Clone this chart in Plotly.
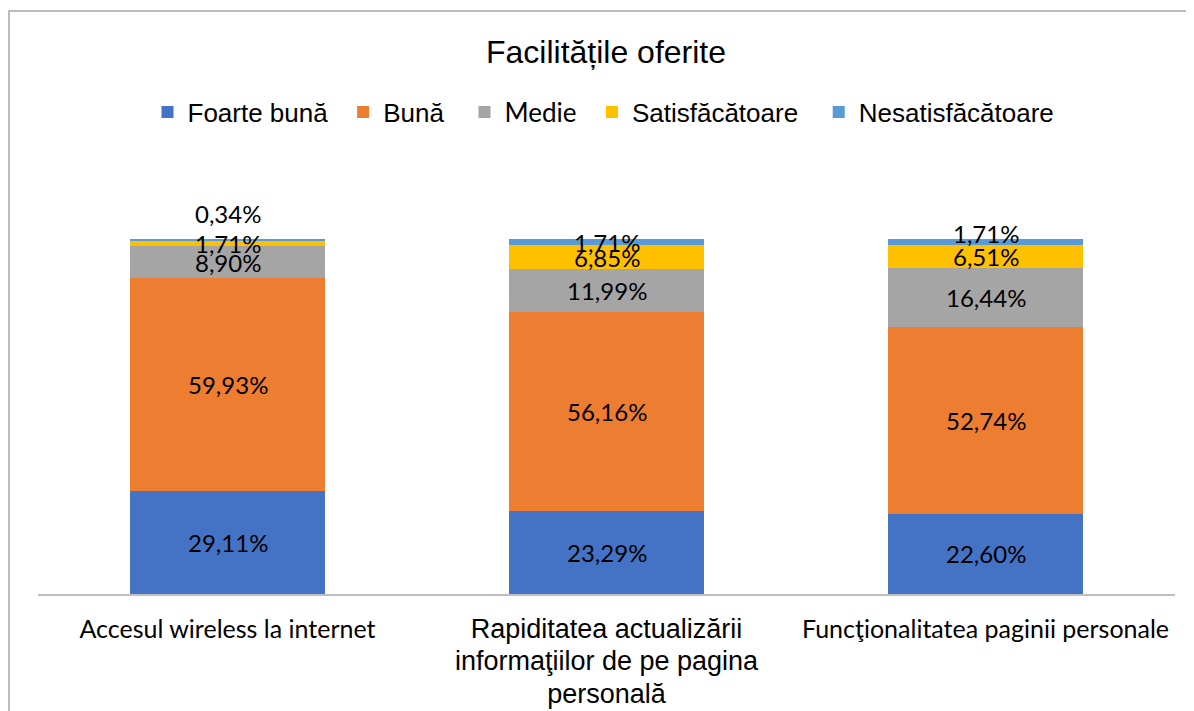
import plotly.graph_objects as go

categories = [
    "Accesul wireless la internet",
    "Rapiditatea actualizării informaţiilor de pe pagina personală",
    "Funcţionalitatea paginii personale",
]
tick_labels = [
    "Accesul wireless la internet",
    "<span style='font-family:Liberation Sans, Arial;font-size:27px'>Rapiditatea actualizării<br>informaţiilor de pe pagina<br>personală</span>",
    "Funcţionalitatea paginii personale",
]
series_names = ["Foarte bună", "Bună", "Medie", "Satisfăcătoare", "Nesatisfăcătoare"]
legend_labels = [
    "Foarte bună\u2009\u2009",
    "Bună\u2009\u2009\u2009",
    "<span style='font-family:Lato'>Medie</span>\u2009\u2009",
    "Satisfăcătoare\u2009\u2009\u2009",
    "Nesatisfăcătoare",
]
foarte_buna = [29.11, 23.29, 22.60]
buna = [59.93, 56.16, 52.74]
medie = [8.90, 11.99, 16.44]
satisfacatoare = [1.71, 6.85, 6.51]
nesatisfacatoare = [0.34, 1.71, 1.71]
series_values = [foarte_buna, buna, medie, satisfacatoare, nesatisfacatoare]

colors = ["#4472C4", "#ED7D31", "#A5A5A5", "#FFC000", "#5B9BD5"]
# pixel shifts for crowded labels (series index, category index) -> yshift
label_shift = {(4, 0): 26, (4, 2): 9}

OFF = 8  # page body margin of the html page
W, H = 1194 - OFF, 711 - OFF
L, R, T, B = 38 - OFF, 19, 239 - OFF, 117
pw, ph = W - L - R, H - T - B

fig = go.Figure()
for i, (name, vals) in enumerate(zip(series_names, series_values)):
    fig.add_trace(go.Bar(
        x=categories, y=vals, name=legend_labels[i],
        marker=dict(color=colors[i], line=dict(width=0)),
        hoverinfo="skip",
    ))

annotations = []
cum = [0.0] * len(categories)
for i, vals in enumerate(series_values):
    for j, v in enumerate(vals):
        mid = cum[j] + v / 2
        cum[j] += v
        annotations.append(dict(
            x=categories[j], y=mid, xref="x", yref="y",
            text=f"{v:.2f}".replace(".", ",") + "%",
            showarrow=False,
            font=dict(family="Lato, Noto Sans, sans-serif", size=24, color="#000000"),
            yshift=label_shift.get((i, j), 0),
        ))


def px_x(px):
    return (px - OFF - L) / pw


def px_y(py):
    return (H - B - (py - OFF)) / ph


shapes = [dict(
    type="rect", xref="paper", yref="paper",
    x0=px_x(9), x1=px_x(1260), y0=px_y(780), y1=px_y(11),
    line=dict(color="#A6A6A6", width=1.5), fillcolor="rgba(0,0,0,0)", layer="below",
)]

fig.update_layout(
    width=W, height=H,
    margin=dict(l=L, r=R, t=T, b=B, autoexpand=False),
    paper_bgcolor="white", plot_bgcolor="white",
    barmode="stack", bargap=0.485,
    title=dict(
        text="Facilitățile oferite",
        font=dict(family="Liberation Sans, Arial", size=32, color="#000000"),
        xref="container", x=(606 - OFF) / W, xanchor="center",
        yref="container", y=1 - (52 - OFF) / H, yanchor="middle",
    ),
    legend=dict(
        orientation="h", traceorder="normal",
        xref="container", x=(603.5 - OFF) / W, xanchor="center",
        yref="container", y=1 - (112 - OFF) / H, yanchor="middle",
        font=dict(family="Liberation Sans, Arial", size=26, color="#000000"),
        itemwidth=30,
    ),
    xaxis=dict(
        tickmode="array", tickvals=categories, ticktext=tick_labels,
        range=[-0.5, 2.5], automargin=False,
        showline=True, linecolor="#BFBFBF", linewidth=1.5,
        ticks="", showgrid=False, zeroline=False,
        tickfont=dict(family="Lato, Noto Sans, sans-serif", size=25, color="#000000"),
        ticklabelstandoff=12,
    ),
    yaxis=dict(range=[0, 100], visible=False, showgrid=False, zeroline=False,
               automargin=False),
    annotations=annotations,
    shapes=shapes,
    showlegend=True,
)

fig.write_html("out.html")
